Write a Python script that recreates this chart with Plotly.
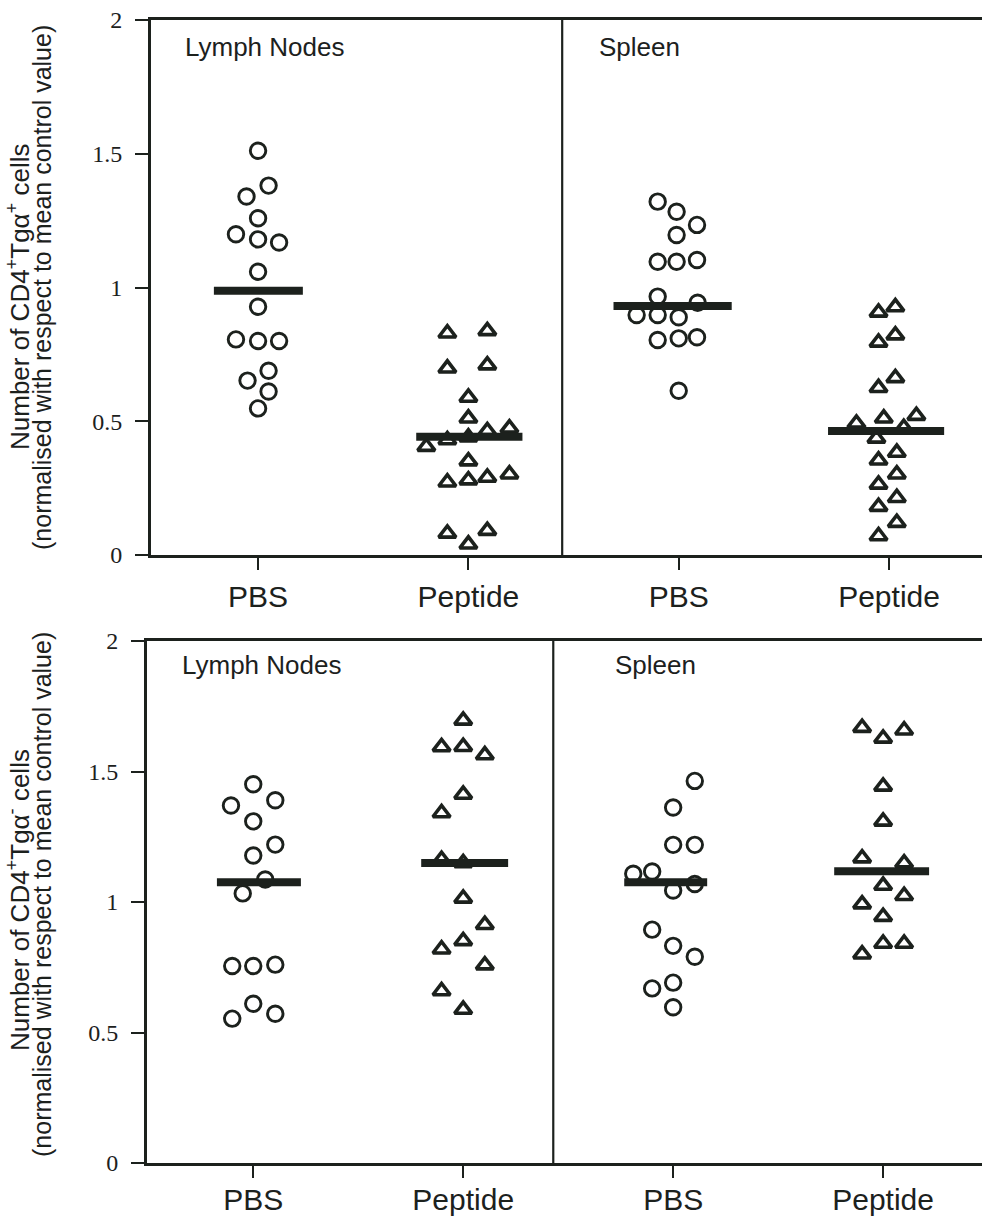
import plotly.graph_objects as go

W, H = 990, 1228
INK = "#1c211d"

categories = ["PBS", "Peptide", "PBS", "Peptide"]
cat_pos = [1, 2, 3, 4]
y_ticks = [0, 0.5, 1, 1.5, 2]
y_tick_text = ["0", "0.5", "1", "1.5", "2"]

# ---------------- Top panel: CD4+Tgα+ cells ----------------
top_ln_pbs = [1.511, 1.381, 1.340, 1.259, 1.199, 1.180, 1.168, 1.059, 0.928,
              0.806, 0.800, 0.800, 0.689, 0.652, 0.611, 0.548]
top_ln_pbs_jit = [0, 0.05, -0.055, 0, -0.105, 0, 0.10, 0, 0,
                  -0.105, 0, 0.10, 0.05, -0.05, 0.05, 0]
top_ln_pep = [0.829, 0.838, 0.698, 0.710, 0.589, 0.511, 0.464, 0.474, 0.430, 0.440,
              0.405, 0.351, 0.272, 0.280, 0.290, 0.302, 0.081, 0.040, 0.091]
top_ln_pep_jit = [-0.1, 0.09, -0.1, 0.09, 0, 0, 0.09, 0.195, -0.1, 0,
                  -0.2, 0, -0.1, 0, 0.09, 0.195, -0.1, 0, 0.09]
top_sp_pbs = [1.321, 1.283, 1.234, 1.196, 1.096, 1.096, 1.103, 0.966, 0.943,
              0.897, 0.897, 0.889, 0.804, 0.810, 0.814, 0.614]
top_sp_pbs_jit = [-0.1, -0.01, 0.087, -0.01, -0.1, -0.01, 0.087, -0.1, 0.09,
                  -0.2, -0.1, 0, -0.1, 0, 0.087, 0]
top_sp_pep = [0.907, 0.927, 0.795, 0.822, 0.625, 0.662, 0.492, 0.511, 0.521, 0.476,
              0.436, 0.354, 0.383, 0.264, 0.302, 0.181, 0.214, 0.071, 0.121]
top_sp_pep_jit = [-0.05, 0.03, -0.05, 0.03, -0.05, 0.03, -0.155, -0.025, 0.13, 0.07,
                  -0.06, -0.05, 0.037, -0.05, 0.037, -0.05, 0.037, -0.05, 0.037]
top_means = [0.988, 0.442, 0.931, 0.464]

# ---------------- Bottom panel: CD4+Tgα- cells ----------------
bot_ln_pbs = [1.451, 1.370, 1.390, 1.309, 1.220, 1.178, 1.086, 1.033,
              0.755, 0.755, 0.760, 0.610, 0.553, 0.572]
bot_ln_pbs_jit = [0, -0.106, 0.105, 0, 0.105, 0, 0.057, -0.05,
                  -0.1, 0, 0.105, 0, -0.1, 0.105]
bot_ln_pep = [1.696, 1.594, 1.595, 1.563, 1.412, 1.341, 1.162, 1.150, 1.014,
              0.913, 0.851, 0.819, 0.758, 0.659, 0.588]
bot_ln_pep_jit = [0, -0.103, 0, 0.103, 0, -0.103, -0.103, 0, 0,
                  0.103, 0, -0.103, 0.103, -0.103, 0]
bot_sp_pbs = [1.464, 1.362, 1.219, 1.219, 1.108, 1.117, 1.044, 1.069,
              0.894, 0.832, 0.790, 0.669, 0.691, 0.597]
bot_sp_pbs_jit = [0.103, 0, 0, 0.103, -0.19, -0.1, 0, 0.103,
                  -0.1, 0, 0.103, -0.1, 0, 0]
bot_sp_pep = [1.668, 1.627, 1.658, 1.443, 1.309, 1.168, 1.149, 1.063,
              1.024, 0.992, 0.944, 0.841, 0.841, 0.800]
bot_sp_pep_jit = [-0.1, 0, 0.1, 0, 0, -0.1, 0.1, 0,
                  0.1, -0.1, 0, 0, 0.1, -0.1]
bot_means = [1.076, 1.149, 1.076, 1.118]

# ---------------- styles ----------------
CIRCLE = dict(symbol="circle-open", size=15.5, color=INK, line=dict(width=2.9, color=INK))
TRIANGLE = dict(symbol="triangle-up-open", size=15, color=INK, line=dict(width=3.6, color=INK))
top_bar_span = [(-0.21, 0.213), (-0.248, 0.257), (-0.31, 0.252), (-0.29, 0.262)]
bot_bar_span = [(-0.173, 0.227), (-0.2, 0.214), (-0.233, 0.162), (-0.233, 0.219)]

fig = go.Figure()


def add_group(xa, ya, pos, values, jitter, marker):
    fig.add_trace(go.Scatter(
        x=[pos + j for j in jitter], y=values, mode="markers",
        marker=marker, xaxis=xa, yaxis=ya, showlegend=False, hoverinfo="y"))


def add_bar(xa, ya, pos, mean, span):
    fig.add_trace(go.Scatter(
        x=[pos + span[0], pos + span[1]], y=[mean, mean], mode="lines",
        line=dict(color=INK, width=8), xaxis=xa, yaxis=ya,
        showlegend=False, hoverinfo="y"))


top_groups = [(top_ln_pbs, top_ln_pbs_jit, CIRCLE), (top_ln_pep, top_ln_pep_jit, TRIANGLE),
              (top_sp_pbs, top_sp_pbs_jit, CIRCLE), (top_sp_pep, top_sp_pep_jit, TRIANGLE)]
bot_groups = [(bot_ln_pbs, bot_ln_pbs_jit, CIRCLE), (bot_ln_pep, bot_ln_pep_jit, TRIANGLE),
              (bot_sp_pbs, bot_sp_pbs_jit, CIRCLE), (bot_sp_pep, bot_sp_pep_jit, TRIANGLE)]

for i, (vals, jit, mk) in enumerate(top_groups):
    add_group("x", "y", cat_pos[i], vals, jit, mk)
for i, (vals, jit, mk) in enumerate(bot_groups):
    add_group("x2", "y2", cat_pos[i], vals, jit, mk)
for i in range(4):
    add_bar("x", "y", cat_pos[i], top_means[i], top_bar_span[i])
    add_bar("x2", "y2", cat_pos[i], bot_means[i], bot_bar_span[i])


def px(v):
    return v / W


def py(v):
    return 1 - v / H


def xaxis_cfg(dom, rng, anchor, standoff):
    return dict(domain=dom, range=rng, anchor=anchor, automargin=False,
                tickmode="array", tickvals=cat_pos, ticktext=categories,
                ticks="outside", ticklen=12, tickwidth=2.2, tickcolor=INK,
                showline=True, linewidth=2.8, linecolor=INK, mirror=True,
                showgrid=False, zeroline=False, fixedrange=True,
                ticklabelstandoff=standoff,
                tickfont=dict(family="Liberation Sans, Arial, sans-serif", size=30, color=INK))


def yaxis_cfg(dom, anchor):
    return dict(domain=dom, range=[0, 2], anchor=anchor, automargin=False,
                tickmode="array", tickvals=y_ticks, ticktext=y_tick_text,
                ticks="outside", ticklen=13, tickwidth=2.2, tickcolor=INK,
                showline=True, linewidth=2.8, linecolor=INK, mirror=False,
                showgrid=False, zeroline=False, fixedrange=True,
                ticklabelstandoff=8,
                tickfont=dict(family="Liberation Serif, Times New Roman, serif", size=24, color=INK))


fig.update_layout(
    width=W, height=H, margin=dict(l=0, r=0, t=0, b=0, autoexpand=False),
    paper_bgcolor="white", plot_bgcolor="white", showlegend=False,
    xaxis=xaxis_cfg([px(151), px(982)], [0.491, 4.442], "y", 1),
    yaxis=yaxis_cfg([py(555), py(20)], "x"),
    xaxis2=xaxis_cfg([px(147), px(982)], [0.494, 4.471], "y2", -4),
    yaxis2=yaxis_cfg([py(1163), py(641)], "x2"),
)

# panel dividers
fig.add_shape(type="line", xref="x", yref="y domain", x0=2.446, x1=2.446, y0=0, y1=1,
              line=dict(color=INK, width=2.2))
fig.add_shape(type="line", xref="x2", yref="y2 domain", x0=2.429, x1=2.429, y0=0, y1=1,
              line=dict(color=INK, width=2.2))

LABEL_FONT = dict(family="Liberation Sans, Arial, sans-serif", size=26, color=INK)
for text, x, y in [("Lymph Nodes", 183, 47), ("Spleen", 597, 47),
                   ("Lymph Nodes", 180, 665), ("Spleen", 613, 665)]:
    fig.add_annotation(text=text, x=px(x), y=py(y), xref="paper", yref="paper",
                       xanchor="left", yanchor="middle", showarrow=False, font=LABEL_FONT)

TITLE1_FONT = dict(family="Liberation Sans, Arial, sans-serif", size=26, color=INK)
TITLE2_FONT = dict(family="Liberation Sans, Arial, sans-serif", size=25, color=INK)
titles = [("Number of CD4<sup>+</sup>Tgα<sup>+</sup> cells", 18, 297, TITLE1_FONT),
          ("(normalised with respect to mean control value)", 42, 288, TITLE2_FONT),
          ("Number of CD4<sup>+</sup>Tgα<sup>-</sup> cells", 18, 900, TITLE1_FONT),
          ("(normalised with respect to mean control value)", 42, 895, TITLE2_FONT)]
for text, x, y, f in titles:
    fig.add_annotation(text=text, x=px(x), y=py(y), xref="paper", yref="paper",
                       xanchor="center", yanchor="middle", textangle=-90,
                       showarrow=False, font=f)

fig.write_html("out.html")
